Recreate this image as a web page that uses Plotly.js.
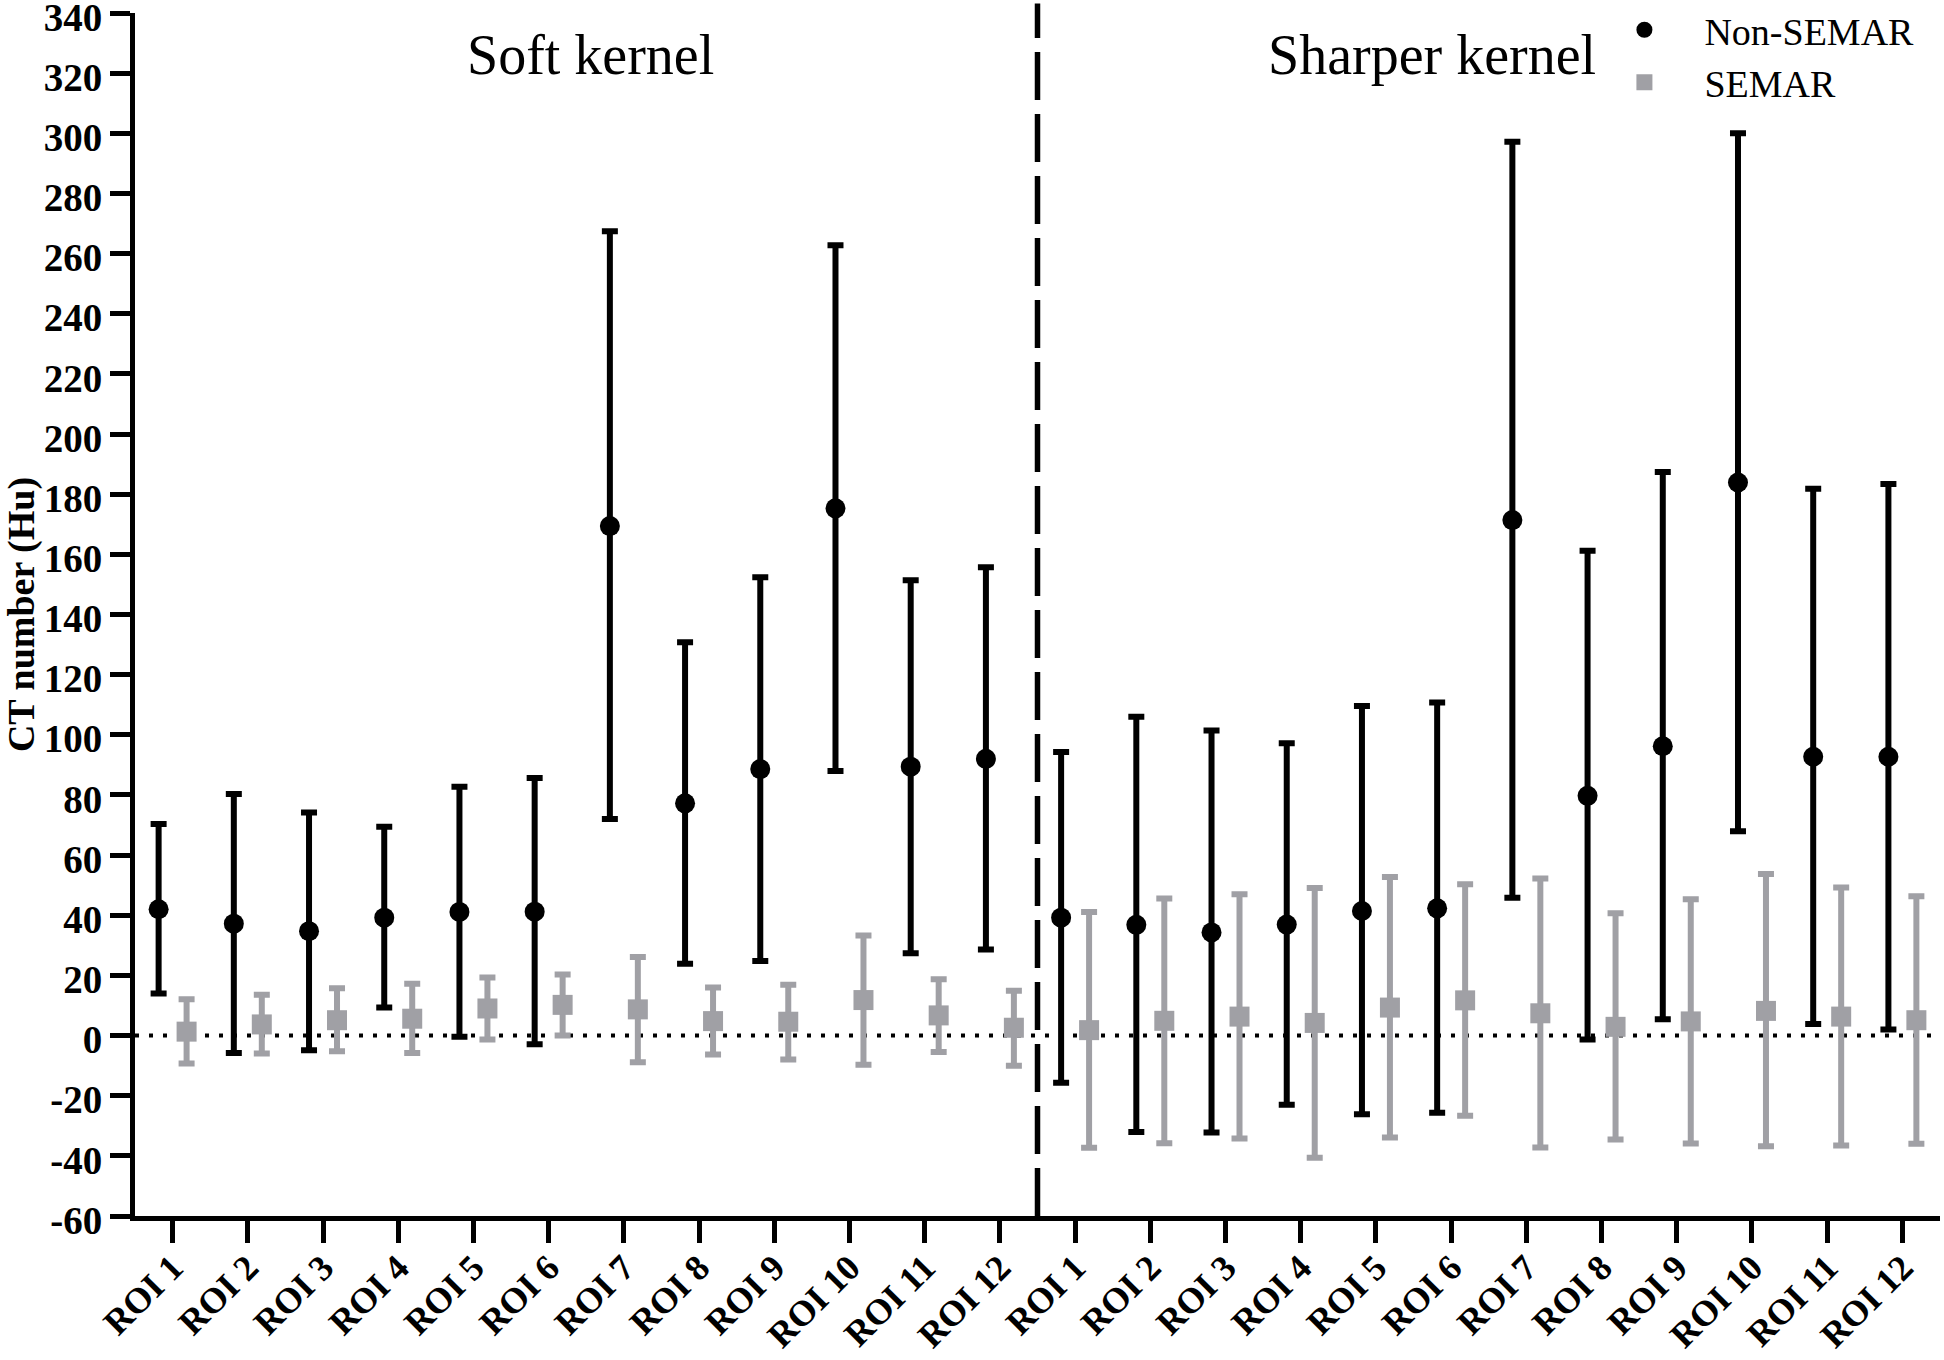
<!DOCTYPE html>
<html>
<head>
<meta charset="utf-8">
<script src="https://cdn.plot.ly/plotly-3.0.1.min.js"></script>
<style>html,body{margin:0;padding:0;background:#fff;}#chart{width:1944px;height:1360px;}</style>
</head>
<body>
<div id="chart"></div>
<script>
// ---- Data ----
const roiLabels = ['ROI 1','ROI 2','ROI 3','ROI 4','ROI 5','ROI 6','ROI 7','ROI 8','ROI 9','ROI 10','ROI 11','ROI 12'];
const kernels = ['Soft kernel', 'Sharper kernel'];

// Soft kernel
const softNonMean  = [42.0, 37.2, 34.7, 39.2, 41.1, 41.2, 169.4, 77.2, 88.6, 175.3, 89.4, 92.0];
const softNonUpper = [70.3, 80.3, 74.2, 69.4, 82.7, 85.6, 267.4, 130.8, 152.4, 262.8, 151.4, 155.7];
const softNonLower = [14.0, -5.8, -4.9, 9.3, -0.4, -2.9, 72.0, 23.9, 24.8, 88.0, 27.4, 28.6];
const softSemMean  = [1.3, 3.7, 5.1, 5.6, 9.0, 10.2, 8.7, 4.8, 4.6, 11.8, 6.7, 2.6];
const softSemUpper = [12.1, 13.6, 15.7, 17.2, 19.3, 20.3, 26.1, 16.0, 16.9, 33.3, 18.7, 14.9];
const softSemLower = [-9.3, -6.0, -5.2, -5.8, -1.3, 0.0, -8.9, -6.3, -8.0, -9.7, -5.5, -10.0];

// Sharper kernel
const sharpNonMean  = [39.2, 36.8, 34.3, 36.9, 41.4, 42.3, 171.4, 79.7, 96.2, 183.9, 92.7, 92.7];
const sharpNonUpper = [94.3, 106.0, 101.4, 97.2, 109.6, 110.7, 297.2, 161.2, 187.4, 300.0, 181.8, 183.4];
const sharpNonLower = [-15.7, -32.1, -32.2, -23.0, -26.2, -25.7, 45.8, -1.3, 5.4, 67.9, 3.8, 2.0];
const sharpSemMean  = [1.8, 4.9, 6.3, 4.2, 9.3, 11.7, 7.4, 2.9, 4.7, 8.2, 6.3, 5.1];
const sharpSemUpper = [41.1, 45.6, 47.0, 49.1, 52.7, 50.3, 52.2, 40.7, 45.3, 53.7, 49.2, 46.3];
const sharpSemLower = [-37.3, -35.8, -34.2, -40.6, -33.9, -26.7, -37.2, -34.6, -35.9, -36.8, -36.6, -36.0];

const seriesNames = ['Non-SEMAR', 'SEMAR'];
const yTickVals = [-60,-40,-20,0,20,40,60,80,100,120,140,160,180,200,220,240,260,280,300,320,340];

// ---- Build ----
const SERIF = 'Liberation Serif, Times New Roman, serif';
const BLACK = '#000000';
const GREY = '#a0a0a5';
const OFFSET = 0.186;

const allLabels = roiLabels.concat(roiLabels);
const idx = allLabels.map((_, i) => i);
const nonMean = softNonMean.concat(sharpNonMean);
const nonUpper = softNonUpper.concat(sharpNonUpper);
const nonLower = softNonLower.concat(sharpNonLower);
const semMean = softSemMean.concat(sharpSemMean);
const semUpper = softSemUpper.concat(sharpSemUpper);
const semLower = softSemLower.concat(sharpSemLower);

function makeTrace(name, xs, mean, upper, lower, color, symbol) {
  return {
    type: 'scatter', mode: 'markers', name: name,
    x: xs, y: mean,
    marker: {color: color, symbol: symbol, size: 20, line: {width: 0}},
    error_y: {
      type: 'data', symmetric: false,
      array: upper.map((u, i) => u - mean[i]),
      arrayminus: lower.map((l, i) => mean[i] - l),
      color: color, thickness: 6, width: 8
    },
    cliponaxis: false, hoverinfo: 'skip'
  };
}

const data = [
  makeTrace(seriesNames[0], idx.map(i => i - OFFSET), nonMean, nonUpper, nonLower, BLACK, 'circle'),
  makeTrace(seriesNames[1], idx.map(i => i + OFFSET), semMean, semUpper, semLower, GREY, 'square')
];

const nSoft = roiLabels.length;
const layout = {
  width: 1944, height: 1360,
  margin: {l: 135, r: 4, t: 13, b: 144, autoexpand: false},
  paper_bgcolor: '#ffffff', plot_bgcolor: '#ffffff',
  showlegend: true,
  legend: {
    x: 0.803, y: 1.012, xanchor: 'left', yanchor: 'top',
    font: {family: SERIF, size: 38, color: BLACK},
    bgcolor: 'rgba(0,0,0,0)', itemwidth: 110, tracegroupgap: 0
  },
  xaxis: {
    range: [-0.5, allLabels.length - 0.5],
    tickmode: 'array', tickvals: idx, ticktext: allLabels,
    tickangle: -45,
    tickfont: {family: SERIF, size: 36, color: BLACK, weight: 'bold'},
    ticklabelstandoff: -11,
    showline: true, linewidth: 5, linecolor: BLACK, mirror: false,
    ticks: 'outside', ticklen: 22, tickwidth: 5, tickcolor: BLACK,
    showgrid: false, zeroline: false, fixedrange: true, automargin: false
  },
  yaxis: {
    range: [-60, 340],
    tickmode: 'array', tickvals: yTickVals, ticktext: yTickVals.map(String),
    tickfont: {family: SERIF, size: 39, color: BLACK, weight: 'bold'},
    ticklabeloverflow: 'allow', ticklabelshift: 4,
    showline: true, linewidth: 5, linecolor: BLACK,
    ticks: 'outside', ticklen: 20, tickwidth: 5, tickcolor: BLACK,
    showgrid: false, zeroline: false, fixedrange: true, automargin: false,
    title: {text: 'CT number (Hu)', font: {family: SERIF, size: 38, color: BLACK, weight: 'bold'}, standoff: 4}
  },
  shapes: [
    {type: 'line', xref: 'paper', yref: 'y', x0: 0, x1: 1, y0: 0, y1: 0,
     line: {color: BLACK, width: 4, dash: '4px,10px'}, layer: 'below'},
    {type: 'line', xref: 'x', yref: 'paper', x0: nSoft - 0.5, x1: nSoft - 0.5, y0: 0, y1: 1.008,
     line: {color: BLACK, width: 5.5, dash: '48px,14px'}, layer: 'above'}
  ],
  annotations: [
    {text: kernels[0], xref: 'x', yref: 'y', x: 5.55, y: 326, showarrow: false,
     xanchor: 'center', yanchor: 'middle', font: {family: SERIF, size: 56, color: BLACK}},
    {text: kernels[1], xref: 'x', yref: 'y', x: 16.75, y: 326, showarrow: false,
     xanchor: 'center', yanchor: 'middle', font: {family: SERIF, size: 56, color: BLACK}}
  ]
};

Plotly.newPlot('chart', data, layout, {staticPlot: true, displayModeBar: false});
</script>
</body>
</html>
